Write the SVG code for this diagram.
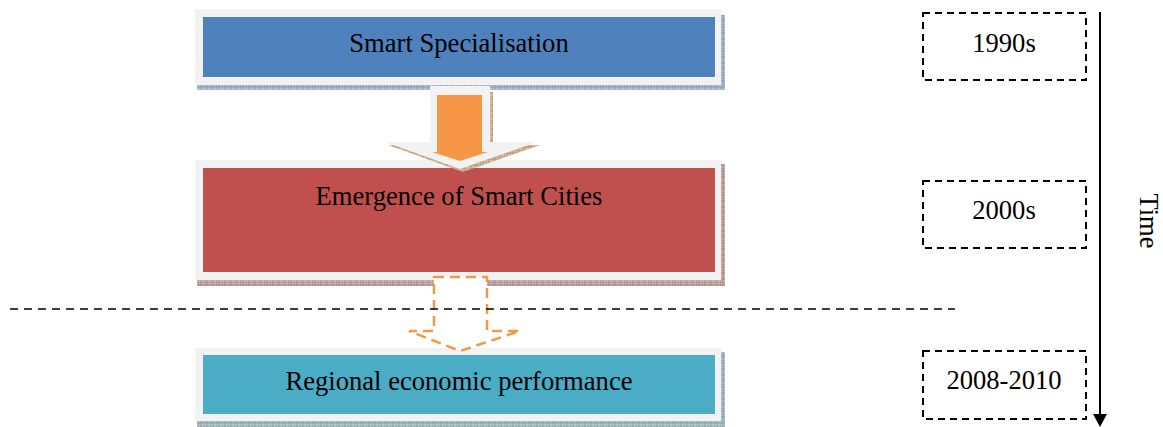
<svg xmlns="http://www.w3.org/2000/svg" width="1163" height="427" viewBox="0 0 1163 427">
  <defs>
    <!-- fine grid hatch used for the soft drop shadows -->
    <pattern id="hatchBlue" width="6" height="6" patternUnits="userSpaceOnUse">
      <rect width="6" height="6" fill="#b9c3d3"/>
      <path d="M0 0H6M0 3H6M0 0V6M3 0V6" stroke="#7f8fa8" stroke-width="0.8"/>
    </pattern>
    <pattern id="hatchRed" width="6" height="6" patternUnits="userSpaceOnUse">
      <rect width="6" height="6" fill="#cfb4b4"/>
      <path d="M0 0H6M0 3H6M0 0V6M3 0V6" stroke="#a07e7e" stroke-width="0.8"/>
    </pattern>
    <pattern id="hatchTeal" width="6" height="6" patternUnits="userSpaceOnUse">
      <rect width="6" height="6" fill="#b4c8cc"/>
      <path d="M0 0H6M0 3H6M0 0V6M3 0V6" stroke="#7d979c" stroke-width="0.8"/>
    </pattern>
    <pattern id="hatchOrange" width="6" height="6" patternUnits="userSpaceOnUse">
      <rect width="6" height="6" fill="#dcc0a8"/>
      <path d="M0 0H6M0 3H6M0 0V6M3 0V6" stroke="#b08660" stroke-width="0.8"/>
    </pattern>
  </defs>
  <style>
    .frame { fill: #f2f2f2; }
    .label { font-family: "Liberation Serif", "Times New Roman", serif; font-size: 26.6px; fill: #000; text-anchor: middle; }
    .period { fill: none; stroke: #000; stroke-width: 2; stroke-dasharray: 7 5; }
  </style>

  <rect width="1163" height="427" fill="#ffffff"/>

  <!-- stage boxes -->
  <g id="node-smart-specialisation">
    <rect x="197" y="84" width="528" height="6" fill="url(#hatchBlue)"/>
    <rect x="720" y="15" width="5" height="75" fill="url(#hatchBlue)"/>
    <rect class="frame" x="195" y="9" width="526" height="76"/>
    <rect x="203" y="17" width="512" height="60" fill="#4f81bd"/>
    <text class="label" x="459" y="52">Smart Specialisation</text>
  </g>

  <g id="node-smart-cities">
    <rect x="197" y="279" width="528" height="7" fill="url(#hatchRed)"/>
    <rect x="720" y="164" width="5" height="122" fill="url(#hatchRed)"/>
    <rect class="frame" x="195" y="160" width="526" height="120"/>
    <rect x="203" y="168" width="512" height="104" fill="#c0504d"/>
    <text class="label" x="459" y="205">Emergence of Smart Cities</text>
  </g>

  <g id="node-regional-performance">
    <rect x="197" y="420" width="528" height="7" fill="url(#hatchTeal)"/>
    <rect x="720" y="352" width="5" height="75" fill="url(#hatchTeal)"/>
    <rect class="frame" x="195" y="348" width="526" height="73"/>
    <rect x="203" y="355" width="512" height="59" fill="#4bacc6"/>
    <text class="label" x="459" y="390">Regional economic performance</text>
  </g>

  <!-- period labels -->
  <g id="node-1990s">
    <rect class="period" x="923" y="13" width="163" height="67"/>
    <text class="label" x="1004" y="52">1990s</text>
  </g>
  <g id="node-2000s">
    <rect class="period" x="923" y="181" width="163" height="67"/>
    <text class="label" x="1004" y="219">2000s</text>
  </g>
  <g id="node-2008-2010">
    <rect class="period" x="923" y="351" width="163" height="68"/>
    <text class="label" x="1004" y="389">2008-2010</text>
  </g>

  <g id="node-time">
    <text class="label" transform="translate(1140 221) rotate(90)" x="0" y="0">Time</text>
  </g>

  <g id="connectors">
    <!-- solid block arrow between the first two stages -->
    <path d="M433 92 H493 V145 H540 L463 172 L388 145 H433 Z" fill="url(#hatchOrange)"/>
    <path d="M430 86 H490 V142 H537 L460 169 L385 142 H430 Z" fill="#f2f2f2"/>
    <path d="M437 95 H482 V152 H488 L460 161 L432 152 H437 Z" fill="#f79646"/>

    <!-- dashed block arrow towards regional performance -->
    <path d="M434 277 H487 V331 H520 L460 351 L409 331 H434 Z" fill="#ffffff" stroke="#f79646" stroke-width="2.5" stroke-dasharray="10 6"/>

    <!-- period divider -->
    <line x1="10" y1="309" x2="955" y2="309" stroke="#000" stroke-width="1.5" stroke-dasharray="8 6"/>

    <!-- time axis -->
    <line x1="1100" y1="12" x2="1100" y2="415" stroke="#000" stroke-width="2"/>
    <polygon points="1093,414 1107,414 1100,427" fill="#000"/>
  </g>
</svg>
